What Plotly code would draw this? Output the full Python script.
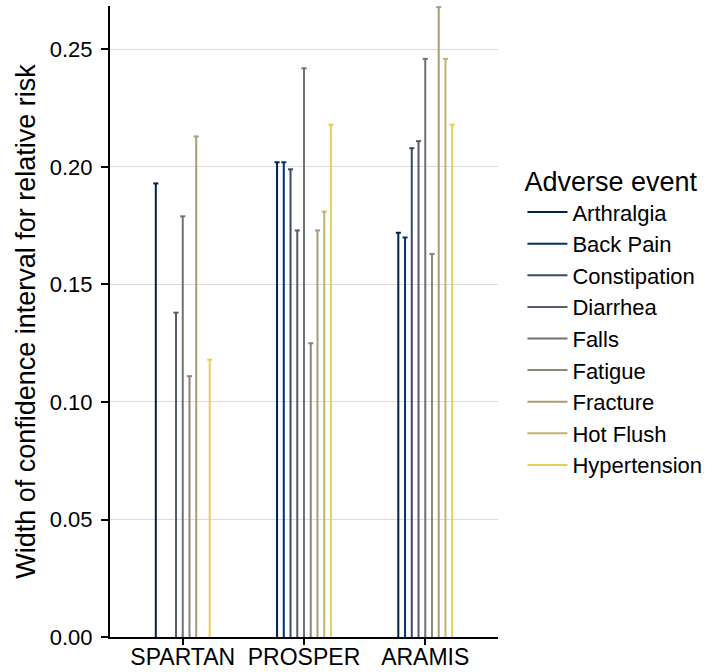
import plotly.graph_objects as go

# Trials on the x axis and adverse events drawn within each trial
trials = ["SPARTAN", "PROSPER", "ARAMIS"]
events = ["Arthralgia", "Back Pain", "Constipation", "Diarrhea", "Falls",
          "Fatigue", "Fracture", "Hot Flush", "Hypertension"]

# Width of the 95% CI for the relative risk, in event order (None = not reported)
spartan = [0.193, None, None, 0.138, 0.179, 0.111, 0.213, None, 0.118]
prosper = [0.202, 0.202, 0.199, 0.173, 0.242, 0.125, 0.173, 0.181, 0.218]
aramis = [0.172, 0.170, 0.208, 0.211, 0.246, 0.163, 0.268, 0.246, 0.218]
widths = [spartan, prosper, aramis]

# cividis palette, one colour per event
colors = ["#00204D", "#00336F", "#39486B", "#575C6D", "#707173",
          "#8A8779", "#A69D75", "#C4B56C", "#E4CF5B"]

FONT = "Liberation Sans, Arial, sans-serif"
DODGE = 0.5          # total dodge width inside a trial slot
CAP_HALF = 0.021     # half-width of the error-bar cap (x units)

n = len(events)
fig = go.Figure()
for i, ev in enumerate(events):
    off = (i - (n - 1) / 2) * DODGE / n
    xs, ys = [], []
    for j, vals in enumerate(widths):
        v = vals[i]
        if v is None:
            continue
        x = j + off
        # vertical bar from 0 to the CI width, then the cap at the top
        xs += [x, x, None, x - CAP_HALF, x + CAP_HALF, None]
        ys += [0, v, None, v, v, None]
    fig.add_trace(go.Scatter(
        x=xs, y=ys, mode="lines", name=ev, legendgroup=ev,
        line=dict(color=colors[i], width=2),
        connectgaps=False, hoverinfo="skip",
    ))

fig.update_layout(
    width=716, height=672,
    margin=dict(l=110, r=218, t=6, b=35),
    paper_bgcolor="white", plot_bgcolor="white",
    font=dict(family=FONT, color="black", size=22),
    legend=dict(
        title=dict(text="Adverse event", font=dict(size=27, color="black")),
        font=dict(size=22, color="black"),
        x=1.063, xanchor="left", y=0.762, yanchor="top",
        tracegroupgap=0, itemwidth=40,
        bgcolor="rgba(0,0,0,0)",
    ),
    xaxis=dict(
        range=[-0.6, 2.6], automargin=False,
        tickmode="array", tickvals=list(range(len(trials))), ticktext=trials,
        ticks="outside", ticklen=6, tickwidth=2, tickcolor="black",
        ticklabelstandoff=-8,
        showline=True, linecolor="black", linewidth=2,
        showgrid=False, zeroline=False,
        tickfont=dict(size=23, color="black"),
    ),
    yaxis=dict(
        range=[0, 0.2685], automargin=False,
        tickmode="linear", tick0=0, dtick=0.05, tickformat=".2f",
        ticks="outside", ticklen=7, tickwidth=2, tickcolor="black",
        ticklabelstandoff=4,
        showline=True, linecolor="black", linewidth=2,
        showgrid=True, gridcolor="#DCDCDC", gridwidth=1.2,
        zeroline=False,
        tickfont=dict(size=22, color="black"),
        title=dict(text="Width of confidence interval for relative risk",
                   font=dict(size=27, color="black"), standoff=6),
    ),
)

fig.write_html("out.html")
